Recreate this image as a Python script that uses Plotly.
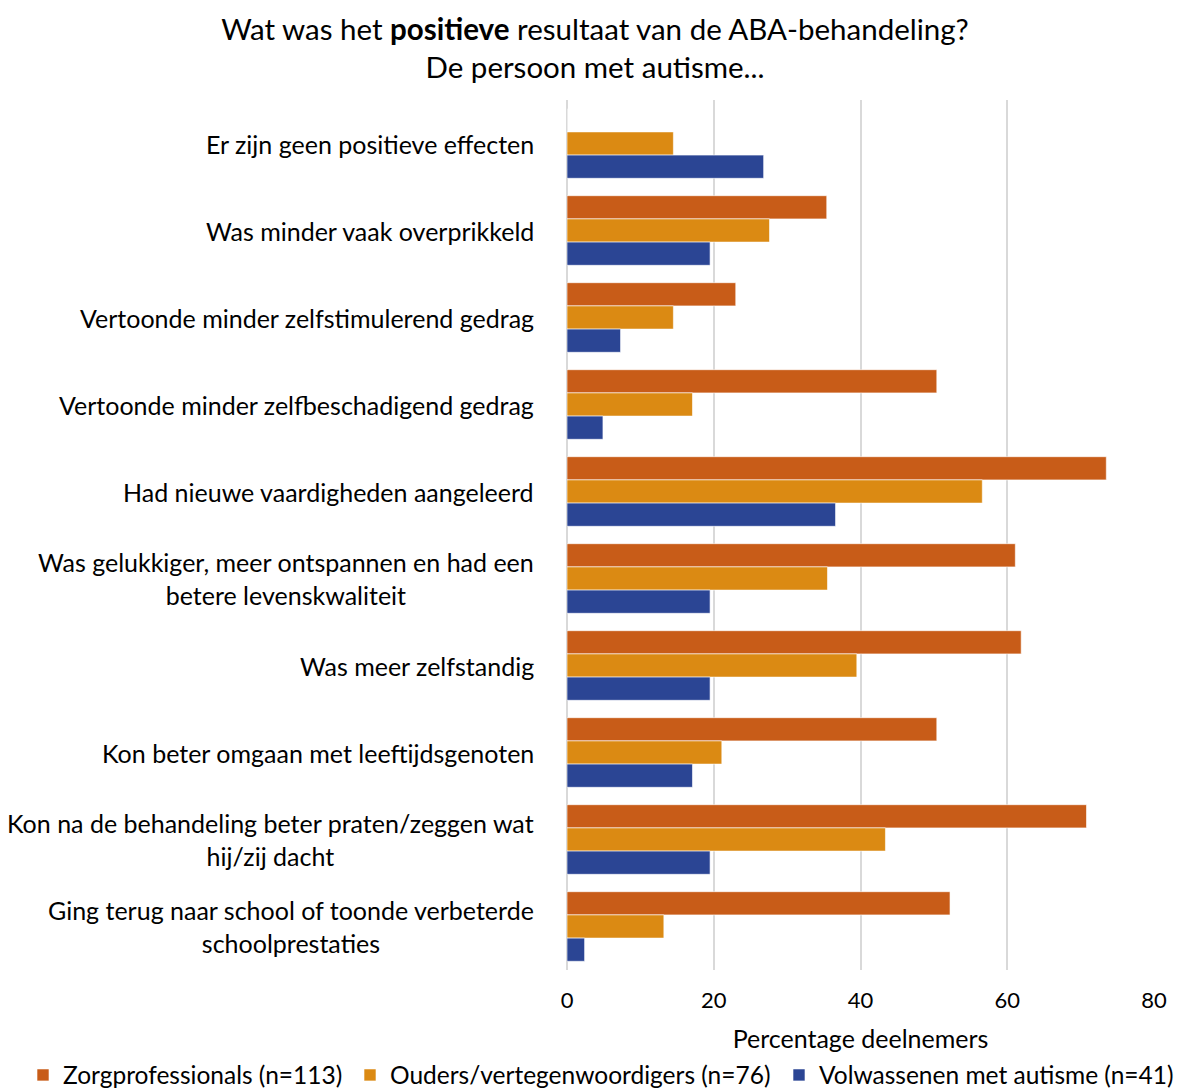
import plotly.graph_objects as go

categories = [
    "Er zijn geen positieve effecten",
    "Was minder vaak overprikkeld",
    "Vertoonde minder zelfstimulerend gedrag",
    "Vertoonde minder zelfbeschadigend gedrag",
    "Had nieuwe vaardigheden aangeleerd",
    "Was gelukkiger, meer ontspannen en had een<br>betere levenskwaliteit",
    "Was meer zelfstandig",
    "Kon beter omgaan met leeftijdsgenoten",
    "Kon na de behandeling beter praten/zeggen wat<br>hij/zij dacht",
    "Ging terug naar school of toonde verbeterde<br>schoolprestaties",
]
zorg = [0, 35.4, 23.0, 50.4, 73.5, 61.1, 61.9, 50.4, 70.8, 52.2]
ouders = [14.5, 27.6, 14.5, 17.1, 56.6, 35.5, 39.5, 21.1, 43.4, 13.2]
volw = [26.8, 19.5, 7.3, 4.9, 36.6, 19.5, 19.5, 17.1, 19.5, 2.4]
series_names = ["Zorgprofessionals (n=113)", "Ouders/vertegenwoordigers (n=76)", "Volwassenen met autisme (n=41)"]
x_ticks = [0, 20, 40, 60, 80]

colors = ["#C85C18", "#DB8A13", "#2B4594"]
FONT = "Lato"
legend_ids = ["legend", "legend2", "legend3"]
legend_x = [23, 350, 779]

fig = go.Figure()
for name, vals, col, lg in zip(series_names, [zorg, ouders, volw], colors, legend_ids):
    fig.add_trace(go.Bar(
        y=categories, x=vals, name=name, orientation="h", legend=lg, showlegend=True,
        marker=dict(color=col, line=dict(color="rgba(255,255,255,0.6)", width=1)),
    ))

for c in categories:
    fig.add_annotation(x=0, xref="paper", y=c, yref="y", text=c, showarrow=False,
                       xanchor="right", xshift=-31, align="center",
                       font=dict(family=FONT, size=25, color="#000000"))

legends = {}
for lg, lx in zip(legend_ids, legend_x):
    legends[lg] = dict(orientation="h", x=lx / 1182, xref="container", xanchor="left",
                       y=13 / 1088, yref="container", yanchor="middle",
                       font=dict(family=FONT, size=24.5, color="#000000"),
                       bgcolor="rgba(0,0,0,0)", visible=True)

fig.update_layout(
    width=1182, height=1088, showlegend=True,
    margin=dict(l=567, r=28, t=100, b=118, autoexpand=False),
    paper_bgcolor="white", plot_bgcolor="white",
    barmode="group", bargap=0.2, bargroupgap=0,
    font=dict(family=FONT, size=22, color="#000000"),
    title=dict(text="Wat was het <b>positieve</b> resultaat van de ABA-behandeling?<br>De persoon met autisme...",
               x=595 / 1182, xanchor="center", y=1 - 40 / 1088, yanchor="middle",
               font=dict(family=FONT, size=29.5, color="#000000")),
    xaxis=dict(range=[0, 80], tickvals=x_ticks, showgrid=True, gridcolor="#D9D9D9", gridwidth=1.5,
               zeroline=True, zerolinecolor="#D9D9D9", zerolinewidth=1.5, showline=False,
               ticks="", tickfont=dict(size=22), ticklabelstandoff=15,
               title=dict(text="Percentage deelnemers", font=dict(size=25), standoff=28)),
    yaxis=dict(autorange="reversed", showticklabels=False, showgrid=False, ticks=""),
    **legends,
)

fig.write_html("out.html", config={"displayModeBar": False},
               post_script="document.body.style.margin='0';document.body.style.overflow='hidden';")
